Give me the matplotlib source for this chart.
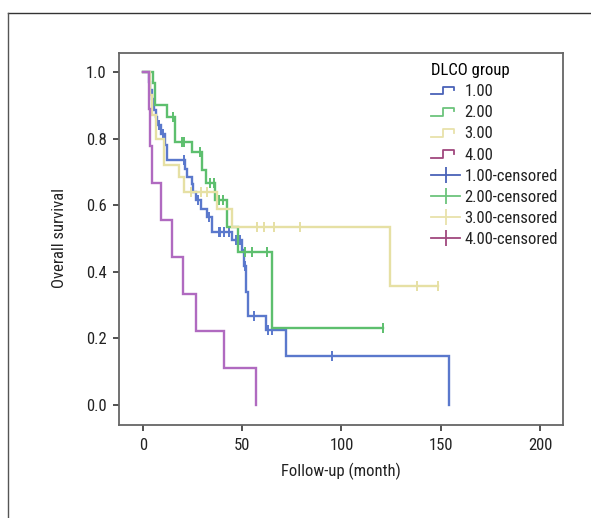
import numpy as np
import matplotlib
matplotlib.use("Agg")
import matplotlib.pyplot as plt
from matplotlib.lines import Line2D
from matplotlib.legend_handler import HandlerBase

plt.rcParams['font.family'] = ['Roboto Condensed', 'Liberation Sans Narrow', 'Roboto', 'DejaVu Sans']

# ---------------- data ----------------
groups = ["1.00", "2.00", "3.00", "4.00"]

blue_time = [0, 3.1, 3.4, 4.8, 5.5, 6.4, 7.3, 8.9, 11, 12, 21, 22, 24.5, 25.5, 27, 29.5,
             32.5, 35, 45, 50, 51, 52, 52.7, 62, 72, 153.9]
blue_surv = [1.0, 0.97, 0.945, 0.92, 0.885, 0.865, 0.84, 0.815, 0.78, 0.735, 0.71, 0.685,
             0.665, 0.64, 0.615, 0.59, 0.565, 0.52, 0.495, 0.465, 0.417, 0.34, 0.267,
             0.225, 0.147, 0.0]
blue_cens = [8.1, 10.3, 20.5, 28, 33.5, 38.2, 39, 40.7, 43.3, 47, 49, 51.6, 56, 63, 65, 95.3]

green_time = [0, 5, 6, 12, 16, 24.9, 30, 31.6, 36.3, 42.5, 47.8, 65, 121]
green_surv = [1.0, 0.966, 0.90, 0.865, 0.79, 0.76, 0.705, 0.666, 0.617, 0.536, 0.46, 0.23, 0.23]
green_cens = [15, 19.5, 20.5, 29, 33.8, 35.8, 38.2, 40.4, 51.5, 55, 62.5, 121]

yellow_time = [0, 3.5, 4.5, 6.5, 10.5, 18, 20.5, 37.5, 45, 124.5, 148.8]
yellow_surv = [1.0, 0.93, 0.87, 0.80, 0.72, 0.685, 0.64, 0.59, 0.536, 0.357, 0.357]
yellow_cens = [24, 29.5, 32.5, 57.5, 61.2, 66, 79.3, 138, 148.8]

purple_time = [0, 3, 3.5, 4.8, 9.3, 14.8, 20.2, 26.7, 40.8, 57.2]
purple_surv = [1.0, 0.889, 0.778, 0.667, 0.556, 0.444, 0.333, 0.222, 0.111, 0.0]
purple_cens = []

x_ticks = [0, 50, 100, 150, 200]
y_ticks = [0.0, 0.2, 0.4, 0.6, 0.8, 1.0]

colors = ['#5a78cc', '#5dbf6e', '#e6e0a4', '#b06ac0']
legend_colors = ['#4a62b8', '#6cc47c', '#e8e2aa', '#a0487e']

series = [(blue_time, blue_surv, blue_cens),
          (green_time, green_surv, green_cens),
          (yellow_time, yellow_surv, yellow_cens),
          (purple_time, purple_surv, purple_cens)]

W, H = 591, 518
FS = 12
fig = plt.figure(figsize=(W / 100, H / 100), dpi=100)

# outer frame (top and left)
fig.add_artist(Line2D([8 / W, 1.0], [1 - 13 / H, 1 - 13 / H], transform=fig.transFigure,
                      color='#333333', lw=1.0))
fig.add_artist(Line2D([8 / W, 8 / W], [0, 1 - 13 / H], transform=fig.transFigure,
                      color='#555555', lw=1.0))

ax = fig.add_axes([119 / W, 1 - 425 / H, (563 - 119) / W, (425 - 53) / H])


def surv_at(times, surv, t):
    idx = np.searchsorted(np.asarray(times), t, side='right') - 1
    return np.asarray(surv)[idx]


for (t, s, c), col in zip(series, colors):
    ax.step(t, s, where='post', color=col, lw=1.7, solid_joinstyle='miter')
    if len(c):
        ax.plot(c, surv_at(t, s, c), linestyle='none', marker='|', markersize=7,
                markeredgewidth=1.4, color=col)

ax.set_xlim(-12, 211.5)
# 1.0 at y=72 px, 0.0 at y=405 px
ax.set_ylim(-(425 - 405) / 333, 1 + (72 - 53) / 333)
ax.set_xticks(x_ticks)
ax.set_xticklabels([str(v) for v in x_ticks])
ax.set_yticks(y_ticks)
ax.set_yticklabels([f"{v:.1f}" for v in y_ticks])
ax.tick_params(direction='out', length=4, width=1.2, colors='#333333',
               labelsize=FS, labelcolor='#222222', pad=5)
for sp in ax.spines.values():
    sp.set_color('#666666')
    sp.set_linewidth(1.3)

ax.set_xlabel("Follow-up (month)", fontsize=FS, color='#222222')
ax.set_ylabel("Overall survival", fontsize=FS, color='#222222')
ax.xaxis.set_label_coords(341 / W, 1 - 471 / H, transform=fig.transFigure)
ax.yaxis.set_label_coords(60 / W, 1 - 238 / H, transform=fig.transFigure)
ax.xaxis.label.set_verticalalignment('center')
ax.yaxis.label.set_verticalalignment('center')


class StepHandler(HandlerBase):
    def create_artists(self, legend, orig_handle, xdescent, ydescent, width, height,
                       fontsize, trans):
        x0 = -xdescent
        y0 = -ydescent
        w = width * 0.8
        xs = [x0, x0 + 0.5 * w, x0 + 0.5 * w, x0 + w, x0 + w]
        ys = [y0 + 0.15 * height, y0 + 0.15 * height, y0 + 0.8 * height,
              y0 + 0.8 * height, y0 + 0.5 * height]
        ln = Line2D(xs, ys, color=orig_handle.get_color(), lw=1.3)
        ln.set_transform(trans)
        return [ln]


step_handles = [Line2D([], [], color=c) for c in legend_colors]
cens_handles = [Line2D([], [], color=c, lw=1.3, marker='|', markersize=11,
                       markeredgewidth=1.3) for c in legend_colors]
handles = step_handles + cens_handles
labels = groups + [g + "-censored" for g in groups]
hmap = {h: StepHandler() for h in step_handles}

leg = ax.legend(handles, labels, handler_map=hmap, title="DLCO group",
                loc='upper left', bbox_to_anchor=(431 / W, 1 - 63 / H),
                bbox_transform=fig.transFigure, frameon=False,
                fontsize=FS, title_fontsize=FS, handlelength=1.75,
                handletextpad=0.25, labelspacing=0.37, borderpad=0.0,
                borderaxespad=0.0)
leg._legend_box.align = "left"
for txt in leg.get_texts():
    txt.set_color('#222222')

fig.savefig("out.png", dpi=100)
